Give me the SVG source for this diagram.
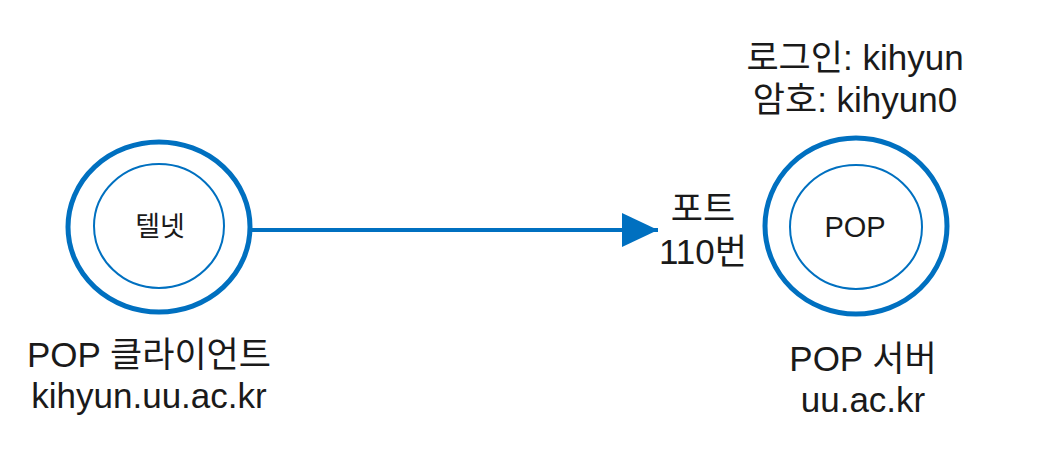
<svg xmlns="http://www.w3.org/2000/svg" width="1062" height="467" viewBox="0 0 1062 467">
<style>
.t{font-family:"Liberation Sans","Noto Sans CJK KR",sans-serif;fill:#1a1a1a;text-anchor:middle}
.big{font-size:35px}
.outer{fill:none;stroke:#0070C0;stroke-width:5}
.inner{fill:none;stroke:#0070C0;stroke-width:2}
</style>
<defs>
<marker id="arr" viewBox="0 0 10 10" refX="10" refY="5" markerWidth="9" markerHeight="8.5" markerUnits="userSpaceOnUse" orient="auto" preserveAspectRatio="none">
<path d="M0,0 L10,5 L0,10 Z" fill="#0070C0"/>
</marker>
<marker id="ah" viewBox="0 0 36 34" refX="36" refY="17" markerWidth="36" markerHeight="34" markerUnits="userSpaceOnUse" orient="auto">
<path d="M0,0 L36,17 L0,34 Z" fill="#0070C0"/>
</marker>
</defs>
<g id="connectors">
<line x1="250" y1="230" x2="658" y2="230" stroke="#0070C0" stroke-width="4" marker-end="url(#ah)"/>
<text class="t big" x="703" y="221">포트</text>
<text class="t big" x="703" y="264">110번</text>
</g>
<g id="client">
<ellipse class="outer" cx="159" cy="227" rx="91" ry="85"/>
<ellipse class="inner" cx="159" cy="226" rx="65" ry="62"/>
<text class="t" x="160" y="236" font-size="27">텔넷</text>
<text class="t big" x="149" y="367">POP 클라이언트</text>
<text class="t big" x="149" y="408">kihyun.uu.ac.kr</text>
</g>
<g id="server">
<ellipse class="outer" cx="856" cy="226" rx="91" ry="88"/>
<ellipse class="inner" cx="856" cy="227" rx="66" ry="62"/>
<text class="t" x="855" y="237" font-size="29">POP</text>
<text class="t big" x="855" y="70">로그인: kihyun</text>
<text class="t big" x="855" y="112">암호: kihyun0</text>
<text class="t big" x="863" y="371">POP 서버</text>
<text class="t big" x="863" y="412">uu.ac.kr</text>
</g>
</svg>
